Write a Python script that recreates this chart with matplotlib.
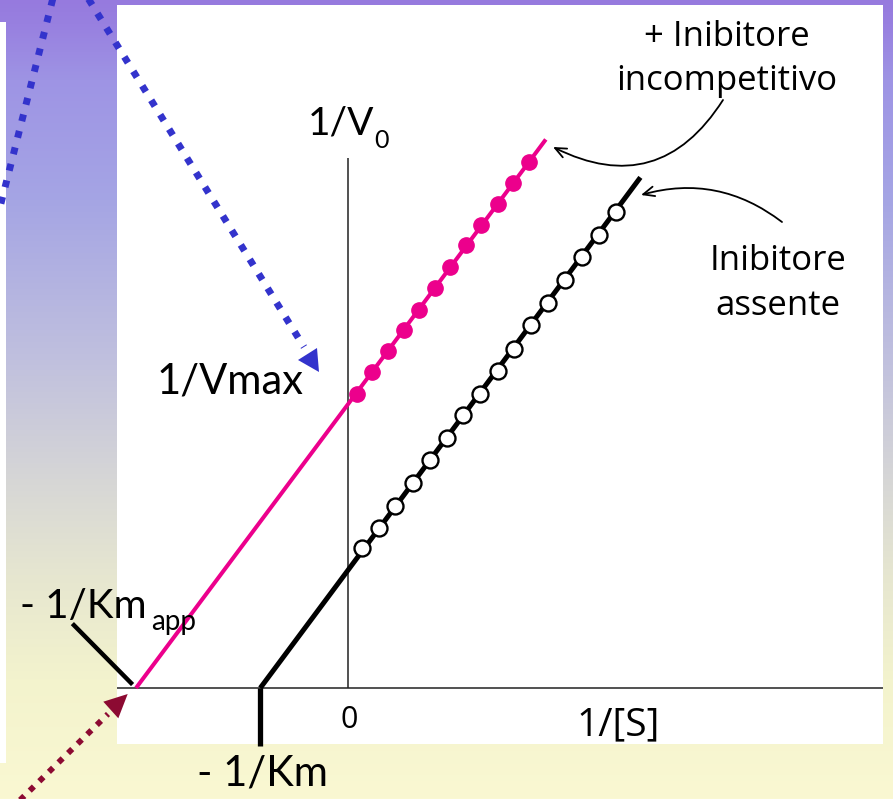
import numpy as np
import matplotlib
matplotlib.use("Agg")
import matplotlib.pyplot as plt
from matplotlib.patches import Polygon, Rectangle

W, H, DPI = 893, 799, 100

# Lineweaver-Burk plot: 1/V0 against 1/[S] (arbitrary units)
# uncompetitive inhibitor present (filled points)
s_inv_inhib = [0.10, 0.28, 0.47, 0.65, 0.83, 1.01, 1.19, 1.37, 1.55, 1.74, 1.92, 2.11]
v_inv_inhib = [2.56, 2.745, 2.93, 3.11, 3.29, 3.48, 3.66, 3.85, 4.03, 4.21, 4.39, 4.57]
# no inhibitor (open points)
s_inv_free = [0.16, 0.36, 0.55, 0.76, 0.95, 1.15, 1.34, 1.54, 1.74, 1.93, 2.13, 2.33,
              2.52, 2.72, 2.92, 3.12]
v_inv_free = [1.215, 1.39, 1.58, 1.78, 1.98, 2.17, 2.37, 2.56, 2.76, 2.95, 3.16, 3.35,
              3.55, 3.75, 3.94, 4.14]

# straight lines, from the x-intercept (-1/Km) to the upper end
line_inhib_x = [-2.465, 2.30]
line_inhib_y = [0.0, 4.77]
line_free_x = [-1.02, 3.40]
line_free_y = [0.0, 4.44]

y_axis_top = 4.61

PINK = "#ec008c"
BLUE = "#3333cc"
WINE = "#8c0a32"
LATO = ["Lato", "DejaVu Sans"]
OPEN = ["Open Sans", "DejaVu Sans"]

fig = plt.figure(figsize=(W / DPI, H / DPI), dpi=DPI)

# ---- slide background: vertical gradient purple -> pale yellow
bg = fig.add_axes([0, 0, 1, 1], zorder=0)
stops = np.array([0.00, 0.03, 0.10, 0.25, 0.45, 0.60, 0.72, 0.85, 1.00])
cols = np.array([[150, 122, 222], [152, 128, 224], [158, 148, 228], [165, 165, 228],
                 [192, 192, 222], [214, 214, 214], [230, 230, 208], [243, 243, 205],
                 [250, 248, 210]]) / 255.0
t = np.linspace(0, 1, H)
grad = np.stack([np.interp(t, stops, cols[:, k]) for k in range(3)], axis=-1)[:, None, :]
bg.imshow(grad, aspect="auto", extent=[0, W, H, 0])
bg.set_xlim(0, W)
bg.set_ylim(H, 0)
bg.add_patch(Rectangle((0, 22), 6, 741, color="white", lw=0))
bg.axis("off")

# ---- chart panel
PX_X0, PX_Y0, PX_PER_X, PX_PER_Y = 348, 688, 86, 115
pl, pr, pt, pb = 117, 883, 5, 744
ax = fig.add_axes([pl / W, (H - pb) / H, (pr - pl) / W, (pb - pt) / H], zorder=1)
ax.set_facecolor("white")
ax.set_xlim((pl - PX_X0) / PX_PER_X, (pr - PX_X0) / PX_PER_X)
ax.set_ylim((PX_Y0 - pb) / PX_PER_Y, (PX_Y0 - pt) / PX_PER_Y)
for sp in ax.spines.values():
    sp.set_visible(False)
ax.set_xticks([])
ax.set_yticks([])

ax.axhline(0, color="#333333", lw=1.2, zorder=2)
ax.vlines(0, 0, y_axis_top, color="#222222", lw=1.1, zorder=2)

ax.plot(line_inhib_x, line_inhib_y, color=PINK, lw=2.9, solid_capstyle="butt", zorder=3)
ax.plot(s_inv_inhib, v_inv_inhib, "o", color=PINK, ms=11, zorder=4)
ax.plot(line_free_x, line_free_y, color="black", lw=3.6, solid_capstyle="butt", zorder=3)
ax.plot(s_inv_free, v_inv_free, "o", mfc="white", mec="black", mew=1.7, ms=11.5, zorder=4)

# pointers to the two x-intercepts
ax.plot([line_free_x[0], line_free_x[0]], [0, -0.50], color="black", lw=3.8,
        solid_capstyle="butt", clip_on=False, zorder=5)
ax.plot([line_inhib_x[0] - 0.04, line_inhib_x[0] - 0.74], [0.03, 0.56], color="black",
        lw=3.2, solid_capstyle="butt", clip_on=False, zorder=5)

# ---- overlay in pixel coordinates for labels and decorations
ov = fig.add_axes([0, 0, 1, 1], zorder=2)
ov.set_xlim(0, W)
ov.set_ylim(H, 0)
ov.axis("off")

ov.text(308, 135, "1/V", fontsize=28, family=LATO, ha="left", va="baseline")
ov.text(374, 148, "0", fontsize=18, family=LATO, ha="left", va="baseline")
ov.text(157, 393, "1/Vmax", fontsize=30, family=LATO, ha="left", va="baseline")
ov.text(20, 618, "- 1/Km", fontsize=29, family=LATO, ha="left", va="baseline")
ov.text(151, 630, "app", fontsize=20, family=LATO, ha="left", va="baseline")
ov.text(197, 785, "- 1/Km", fontsize=30, family=LATO, ha="left", va="baseline")
ov.text(349, 728, "0", fontsize=22, family=OPEN, ha="center", va="baseline")
ov.text(618, 735, "1/[S]", fontsize=28, family=OPEN, ha="center", va="baseline")
ov.text(727, 46, "+ Inibitore", fontsize=25, family=OPEN, ha="center", va="baseline")
ov.text(727, 90, "incompetitivo", fontsize=25, family=OPEN, ha="center", va="baseline")
ov.text(778, 270, "Inibitore", fontsize=25, family=OPEN, ha="center", va="baseline")
ov.text(778, 315, "assente", fontsize=25, family=OPEN, ha="center", va="baseline")

arrow_kw = dict(arrowstyle="->,head_length=0.8,head_width=0.35", lw=1.3, color="black",
                shrinkA=0, shrinkB=0)
ov.annotate("", xy=(553, 147), xytext=(723, 100),
            arrowprops=dict(connectionstyle="arc3,rad=-0.45", **arrow_kw))
ov.annotate("", xy=(641, 195), xytext=(782, 222),
            arrowprops=dict(connectionstyle="arc3,rad=0.25", **arrow_kw))

# dotted arrows
ov.plot([54, -2], [-6, 215], color=BLUE, lw=5.0, ls=(0, (1, 1.45)), dash_capstyle="butt")
ov.plot([86, 304], [-5, 347], color=BLUE, lw=5.0, ls=(0, (1, 1.45)), dash_capstyle="butt")
ov.add_patch(Polygon([(319, 372), (298, 360), (317, 348)], closed=True, color=BLUE, lw=0))
ov.plot([14, 108], [806, 714], color=WINE, lw=4.2, ls=(0, (1, 1.3)), dash_capstyle="butt")
ov.add_patch(Polygon([(127.7, 694), (103.3, 701.7), (118.3, 718.3)], closed=True,
                     color=WINE, lw=0))

fig.savefig("out.png", dpi=DPI)
